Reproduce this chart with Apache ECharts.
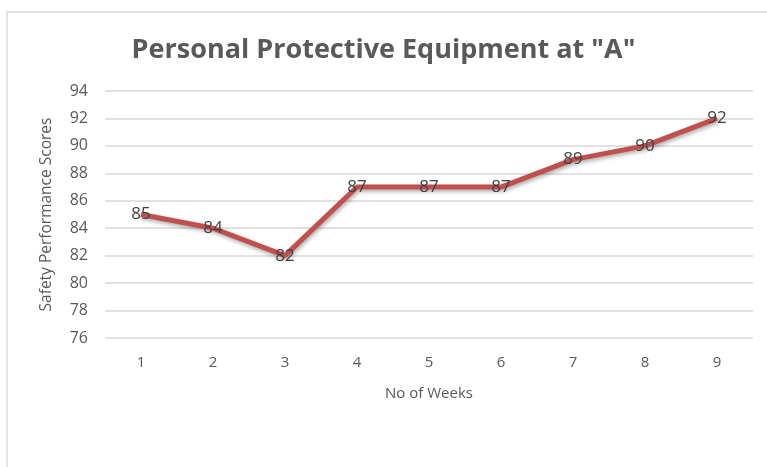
<!DOCTYPE html>
<html>
<head>
<meta charset="utf-8">
<script src="https://cdn.jsdelivr.net/npm/echarts@6/dist/echarts.min.js"></script>
<style>
  html, body { margin: 0; padding: 0; background: #fff; }
  #main { width: 767px; height: 467px; }
</style>
</head>
<body>
<div id="main"></div>
<script>
// weeks and scores
const weeks = ["1", "2", "3", "4", "5", "6", "7", "8", "9"];
const scores = [85, 84, 82, 87, 87, 87, 89, 90, 92];

const chart = echarts.init(document.getElementById("main"));
const font = "'Open Sans', sans-serif";

const option = {
  backgroundColor: "#fff",
  animation: false,
  graphic: [
    {
      type: "rect",
      shape: { x: 7, y: 12, width: 800, height: 500 },
      style: { fill: "none", stroke: "#d9d9d9", lineWidth: 1.5 },
      silent: true,
    },
  ],
  title: {
    text: 'Personal Protective Equipment at "A"',
    left: "center",
    top: 32,
    textStyle: {
      fontFamily: font,
      fontSize: 27,
      fontWeight: "bold",
      color: "#595959",
    },
  },
  grid: {
    left: 105,
    right: 14,
    top: 91,
    bottom: 129,
  },
  xAxis: {
    type: "category",
    data: weeks,
    name: "No of Weeks",
    nameLocation: "middle",
    nameGap: 48,
    nameTextStyle: { fontFamily: font, fontSize: 15, color: "#595959" },
    axisLine: { show: false },
    axisTick: { show: false },
    axisLabel: {
      margin: 17,
      fontFamily: font,
      fontSize: 15,
      color: "#595959",
    },
  },
  yAxis: {
    type: "value",
    min: 76,
    max: 94,
    interval: 2,
    name: "Safety Performance Scores",
    nameLocation: "middle",
    nameGap: 50,
    nameTextStyle: { fontFamily: font, fontSize: 15.5, color: "#595959" },
    axisLine: { show: false },
    axisTick: { show: false },
    axisLabel: {
      margin: 17,
      fontFamily: font,
      fontSize: 16,
      color: "#595959",
    },
    splitLine: { lineStyle: { color: "#d9d9d9", width: 1.5 } },
  },
  series: [
    {
      type: "line",
      data: scores,
      symbol: "circle",
      symbolSize: 2,
      showSymbol: true,
      itemStyle: { color: "rgba(0,0,0,0)" },
      lineStyle: {
        color: "#c0504d",
        width: 5,
        shadowColor: "rgba(0,0,0,0.35)",
        shadowBlur: 4,
        shadowOffsetX: 1,
        shadowOffsetY: 2,
      },
      label: {
        show: true,
        position: "inside",
        fontFamily: font,
        fontSize: 17,
        color: "#404040",
      },
    },
  ],
};

chart.setOption(option);
</script>
</body>
</html>
